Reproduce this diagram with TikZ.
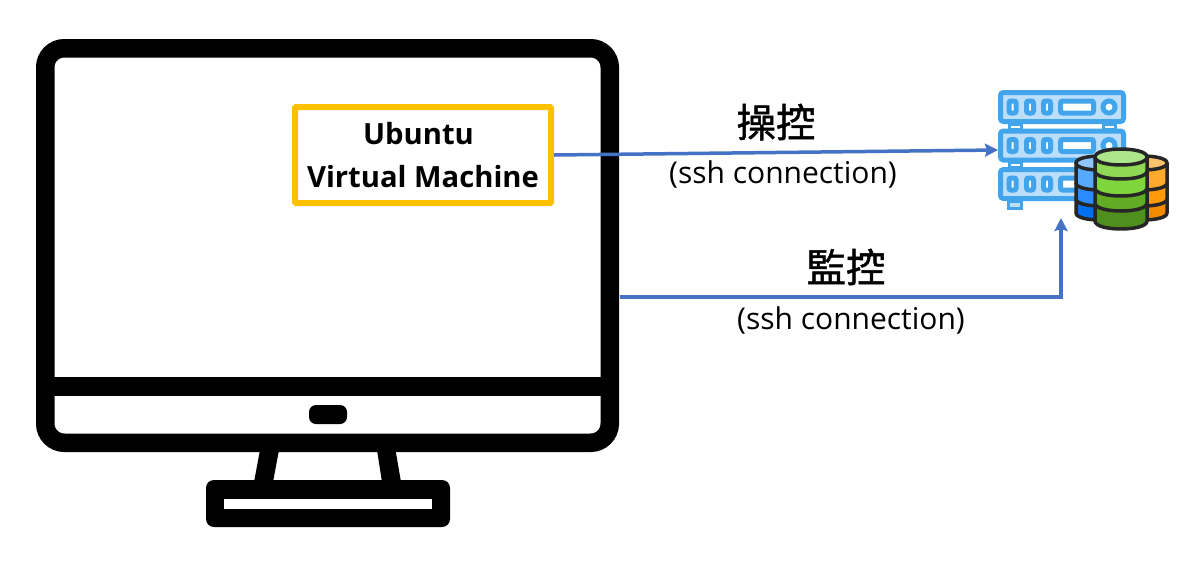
\documentclass[tikz,border=0pt]{standalone}
\usepackage{fontspec}
\setmainfont{Open Sans}
\newfontfamily\cjk[FakeBold=1.2]{Noto Sans CJK TC}
\usetikzlibrary{arrows.meta}
\definecolor{vmyellow}{HTML}{FFC000}
\definecolor{linkblue}{HTML}{4472C4}
\definecolor{rackblue}{HTML}{42A5EC}
\definecolor{rackfill}{HTML}{BBDEFB}
\definecolor{oa}{HTML}{FFC36E}
\definecolor{ob}{HTML}{FFA92D}
\definecolor{oc}{HTML}{FF9B0A}
\definecolor{od}{HTML}{F28A00}
\definecolor{ba}{HTML}{8EC5FF}
\definecolor{bb}{HTML}{57A8FF}
\definecolor{bc}{HTML}{2A8CFF}
\definecolor{bd}{HTML}{006FF0}
\definecolor{ga}{HTML}{AEE68C}
\definecolor{gb}{HTML}{8FD855}
\definecolor{gc}{HTML}{7ED63C}
\definecolor{gd}{HTML}{62AC24}
\definecolor{ge}{HTML}{4F8F1E}
\tikzset{
  screenbox/.style={draw, line width=18.5pt, rounded corners=19pt, inner sep=0pt},
  vmbox/.style={draw=vmyellow, line width=6pt, rounded corners=1pt, inner sep=0pt, minimum width=256pt, minimum height=96pt, align=center, font=\fontsize{29.2}{42.5}\selectfont\bfseries},
  rack/.style={draw=rackblue, fill=rackfill, line width=5pt, rounded corners=3pt, inner sep=0pt, minimum width=123pt, minimum height=29pt},
  rackslot/.style={draw=rackblue, fill=white, line width=5pt, rounded corners=2pt, inner sep=0pt, minimum height=12pt},
  link/.style={draw=linkblue, line width=3.5pt, -{Stealth[length=13pt,width=13pt,inset=2pt]}},
  title/.style={font=\cjk\fontsize{39.5}{39.5}\selectfont, inner sep=0pt},
  note/.style={font=\fontsize{30}{30}\selectfont, inner sep=0pt},
  dbline/.style={draw=black!85, line width=3.5pt, line join=round}
}
\newcommand{\dbstack}[6]{%
  % centre, half width, top, half height, top colour, bands
  \foreach \ya/\yb/\c in {#6} {
    \draw[dbline, fill=\c] (#1-#2,\ya) -- (#1-#2,\yb) .. controls (#1-#2,\yb+#4*1.33) and (#1+#2,\yb+#4*1.33) .. (#1+#2,\yb) -- (#1+#2,\ya) -- cycle;
  }
  \draw[dbline, fill=#5] (#1-#2,#3) .. controls (#1-#2,#3+#4*1.33) and (#1+#2,#3+#4*1.33) .. (#1+#2,#3) .. controls (#1+#2,#3-#4*1.33) and (#1-#2,#3-#4*1.33) .. (#1-#2,#3) -- cycle;
}
\begin{document}
\begin{tikzpicture}[x=1pt, y=-1pt]
  \useasboundingbox (0,0) rectangle (1188,563);
  % monitor
  \node[screenbox, minimum width=564.5pt, minimum height=394.5pt] (monitor) at (327.5,245.5) {};
  \node[fill=black, inner sep=0pt, minimum width=550pt, minimum height=19pt] (bar) at (328,386.5) {};
  \node[fill=black, rounded corners=7pt, inner sep=0pt, minimum width=38pt, minimum height=19pt] (button) at (328,414.5) {};
  \fill (260,450) -- (279,450) -- (273,482) -- (254,482) -- cycle;
  \fill (377,450) -- (395.5,450) -- (401,482) -- (382,482) -- cycle;
  \node[fill=black, rounded corners=8pt, inner sep=0pt, minimum width=244pt, minimum height=47pt] (base) at (328,503.5) {};
  \node[fill=white, inner sep=0pt, minimum width=208pt, minimum height=10pt] (baseslot) at (328,504) {};
  % virtual machine
  \node[vmbox] (vm) at (423,155) {Ubuntu\hspace*{9pt}\\Virtual Machine};
  % server racks
  \foreach \name/\y in {racka/107, rackb/145.5, rackc/184} {
    \node[rack] (\name) at (1062,\y) {};
    \foreach \x/\w in {1012.5/7, 1030/7, 1047/7, 1077/33} {
      \node[rackslot, minimum width=\w pt] (\name-\x) at (\x,\y) {};
    }
    \node[circle, draw=rackblue, fill=white, line width=5pt, inner sep=0pt, minimum size=12pt] (\name-led) at (1109,\y) {};
  }
  \foreach \x in {1015, 1109} {
    \node[draw=rackblue, line width=3pt, inner sep=0pt, minimum width=12pt, minimum height=5pt] (foota\x) at (\x,126.5) {};
    \node[draw=rackblue, line width=3pt, inner sep=0pt, minimum width=12pt, minimum height=5pt] (footb\x) at (\x,164.5) {};
  }
  \node[draw=rackblue, fill=rackfill, line width=3pt, inner sep=0pt, minimum width=13pt, minimum height=7pt] (foot) at (1015,205) {};
  % database
  \dbstack{1143}{24}{163}{7}{oa}{199/213/od, 183/199/oc, 163/183/ob}
  \dbstack{1100}{24}{163}{7}{ba}{199/213/bd, 183/199/bc, 163/183/bb}
  \dbstack{1121}{26}{157}{8}{ga}{203/221/ge, 188/203/gd, 171/188/gc, 157/171/gb}
  % links
  \coordinate (vmout) at (vm.east);
  \coordinate (rackin) at (998,150);
  \coordinate (screenout) at (620,297);
  \coordinate (dbin) at (1061,218);
  \draw[link] (vmout) -- (rackin);
  \draw[link] (screenout) -| (dbin);
  \node[title] (operate) at (776,122) {操控};
  \node[note] (operatessh) at (783,174) {(ssh connection)};
  \node[title] (watch) at (846,267) {監控};
  \node[note] (watchssh) at (851,320) {(ssh connection)};
\end{tikzpicture}
\end{document}
